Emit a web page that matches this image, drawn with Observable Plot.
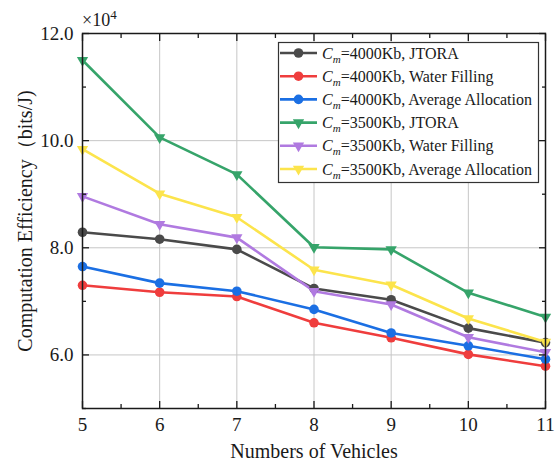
<!DOCTYPE html>
<html><head><meta charset="utf-8">
<script src="https://cdn.jsdelivr.net/npm/d3@7"></script>
<script src="https://cdn.jsdelivr.net/npm/@observablehq/plot@0.6"></script>
<style>
body{margin:0;background:#fff}
#chart{width:558px;height:464px}
#chart svg, #chart svg text { font-family: "Liberation Serif", "Times New Roman", serif; }
</style>
</head><body><div id="chart"></div>
<script>
// ---- data ----
const vehicles = [5, 6, 7, 8, 9, 10, 11];
const seriesCm = ["4000", "4000", "4000", "3500", "3500", "3500"];
const seriesAlg = ["JTORA", "Water Filling", "Average Allocation", "JTORA", "Water Filling", "Average Allocation"];
const seriesShape = ["circle", "circle", "circle", "triangle", "triangle", "triangle"];
const colors = ["#4a4a4a", "#ef3d3d", "#1b6fe3", "#36a46a", "#b07ae0", "#fce44c"];
// values in units of 10^4 bits/J
const jtora4000   = [8.29, 8.16, 7.97, 7.24, 7.03, 6.50, 6.23];
const wf4000      = [7.30, 7.17, 7.09, 6.60, 6.32, 6.01, 5.79];
const avg4000     = [7.65, 7.34, 7.19, 6.85, 6.41, 6.17, 5.92];
const jtora3500   = [11.50, 10.06, 9.37, 8.01, 7.97, 7.16, 6.71];
const wf3500      = [8.96, 8.44, 8.19, 7.19, 6.94, 6.33, 6.05];
const avg3500     = [9.84, 9.01, 8.57, 7.59, 7.31, 6.68, 6.24];
const seriesValues = [jtora4000, wf4000, avg4000, jtora3500, wf3500, avg3500];
const yMajor = [6, 8, 10, 12];
const yMinor = [5, 7, 9, 11];
const xMinor = [5.5, 6.5, 7.5, 8.5, 9.5, 10.5];
const xGrid = [6, 7, 8, 9, 10];
const yGrid = [6, 8, 10];
const xTitle = "Numbers of Vehicles";
const yTitle = "Computation Efficiency（bits/J)";

const names = seriesCm.map((c, i) => `Cm=${c}Kb, ${seriesAlg[i]}`);
const rows = [];
seriesValues.forEach((vals, i) => vals.forEach((v, j) => rows.push({x: vehicles[j], y: v, series: names[i], shape: seriesShape[i]})));

const font = "'Liberation Serif', 'Times New Roman', serif";
const ink = "#1a1a1a";

const chart = Plot.plot({
  width: 558, height: 464,
  marginLeft: 82, marginRight: 13, marginTop: 33, marginBottom: 56,
  style: {fontFamily: font, fontSize: "19px", color: ink, background: "#fff"},
  x: {domain: [5, 11], label: null},
  y: {domain: [5, 12], label: null},
  color: {domain: names, range: colors},
  marks: [
    Plot.gridX(xGrid, {stroke: "#c6c6c6", strokeOpacity: 1, strokeWidth: 1}),
    Plot.gridY(yGrid, {stroke: "#c6c6c6", strokeOpacity: 1, strokeWidth: 1}),
    Plot.line(rows, {x: "x", y: "y", z: "series", stroke: "series", strokeWidth: 2.6}),
    Plot.dot(rows.filter(d => d.shape === "circle"), {x: "x", y: "y", fill: "series", r: 4.8, symbol: "circle"}),
    Plot.dot(rows.filter(d => d.shape === "triangle"), {x: "x", y: "y", fill: "series", r: 4.2, symbol: "triangle", rotate: 180}),
    Plot.frame({stroke: ink, strokeWidth: 1.5}),
    // bottom axis
    Plot.axisX(vehicles, {anchor: "bottom", tickSize: 0, tickPadding: 9, fontSize: 19, label: null}),
    Plot.axisX(vehicles, {anchor: "bottom", tickSize: -7, fill: "none", label: null, strokeWidth: 1.3}),
    Plot.axisX(xMinor, {anchor: "bottom", tickSize: -4, fill: "none", label: null, strokeWidth: 1.3}),
    Plot.axisX(vehicles, {anchor: "top", tickSize: -7, fill: "none", label: null, strokeWidth: 1.3}),
    Plot.axisX(xMinor, {anchor: "top", tickSize: -4, fill: "none", label: null, strokeWidth: 1.3}),
    // left axis
    Plot.axisY(yMajor, {anchor: "left", tickSize: 0, tickPadding: 9, fontSize: 19, tickFormat: d3.format(".1f"), label: null}),
    Plot.axisY(yMajor, {anchor: "left", tickSize: -7, fill: "none", label: null, strokeWidth: 1.3}),
    Plot.axisY(yMinor, {anchor: "left", tickSize: -4, fill: "none", label: null, strokeWidth: 1.3}),
    Plot.axisY(yMajor, {anchor: "right", tickSize: -7, fill: "none", label: null, strokeWidth: 1.3}),
    Plot.axisY(yMinor, {anchor: "right", tickSize: -4, fill: "none", label: null, strokeWidth: 1.3}),
    // axis titles
    Plot.text([xTitle], {frameAnchor: "bottom", dy: 49, lineAnchor: "bottom", textAnchor: "middle", fontSize: 20, fill: ink}),
    Plot.text([yTitle], {frameAnchor: "left", dx: -57, rotate: -90, lineAnchor: "middle", textAnchor: "middle", fontSize: 20, fill: ink})
  ]
});
document.getElementById("chart").appendChild(chart);

// ---- exponent label and legend ----
const svg = d3.select(chart);
const expo = svg.append("text").attr("x", 82).attr("y", 26).attr("text-anchor", "start")
  .attr("font-size", 18).attr("fill", ink);
expo.append("tspan").text("×10");
expo.append("tspan").attr("dy", -7).attr("font-size", 13).text("4");

const lg = svg.append("g").attr("font-size", 16).attr("fill", ink).attr("text-anchor", "start");
lg.append("rect").attr("x", 278.5).attr("y", 42.5).attr("width", 260).attr("height", 140)
  .attr("fill", "#fff").attr("stroke", "#333").attr("stroke-width", 1.2);
names.forEach((n, i) => {
  const cy = 53 + i * 23.2;
  const g = lg.append("g");
  g.append("line").attr("x1", 280).attr("x2", 317).attr("y1", cy).attr("y2", cy).attr("stroke", colors[i]).attr("stroke-width", 2.6);
  if (seriesShape[i] === "circle") {
    g.append("circle").attr("cx", 298.5).attr("cy", cy).attr("r", 4.8).attr("fill", colors[i]);
  } else {
    g.append("path").attr("d", d3.symbol(d3.symbolTriangle, Math.PI * 4.2 * 4.2)()).attr("transform", `translate(298.5,${cy}) rotate(180)`).attr("fill", colors[i]);
  }
  const t = g.append("text").attr("x", 322).attr("y", cy + 5.5);
  t.append("tspan").attr("font-style", "italic").text("C");
  t.append("tspan").attr("font-style", "italic").attr("font-size", 11).attr("dy", 4).text("m");
  t.append("tspan").attr("dy", -4).text(`=${seriesCm[i]}Kb, ${seriesAlg[i]}`);
});
</script>
</body></html>
